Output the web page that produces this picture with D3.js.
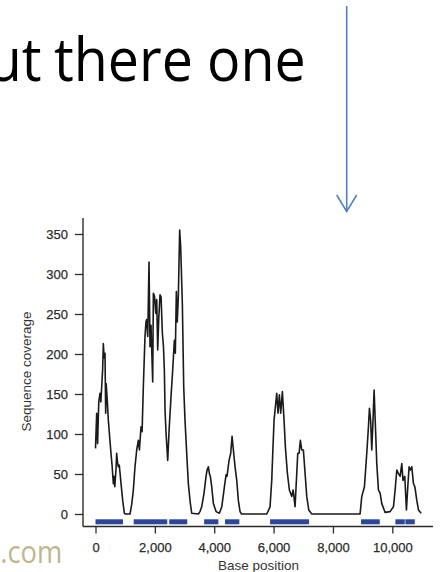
<!DOCTYPE html>
<html>
<head>
<meta charset="utf-8">
<script src="https://cdn.jsdelivr.net/npm/d3@7"></script>
<style>
  html, body { margin: 0; padding: 0; background: #ffffff; }
  svg { display: block; }
</style>
</head>
<body>
<svg id="chart" width="440" height="572"></svg>
<script>
// ---- data ----
const basePositions = [
  0, 40, 70, 110, 152, 180, 208, 240, 264, 290, 320, 343, 360, 400, 433, 480, 522, 560, 601, 625,
  650, 690, 713, 740, 770, 800, 830, 860, 916, 972, 1000, 1163, 1220, 1275, 1331, 1388, 1444, 1480, 1534, 1570,
  1612, 1668, 1700, 1725, 1760, 1803, 1837, 1870, 1927, 1950, 1990, 2030, 2062, 2096, 2130, 2174, 2210, 2253, 2290, 2320,
  2343, 2377, 2433, 2480, 2545, 2601, 2657, 2690, 2724, 2755, 2791, 2836, 2870, 2926, 2972, 3016, 3073, 3128, 3190, 3241,
  3466, 3520, 3578, 3657, 3724, 3760, 3803, 3840, 3870, 3916, 3972, 4062, 4174, 4254, 4343, 4399, 4430, 4500, 4556, 4601,
  4646, 4702, 4759, 4813, 4870, 4920, 5770, 5881, 5938, 5972, 6016, 6061, 6107, 6150, 6195, 6240, 6296, 6353, 6397, 6465,
  6532, 6613, 6660, 6724, 6781, 6815, 6860, 6903, 6950, 7004, 7061, 7118, 7185, 7287, 8914, 8972, 9061, 9140, 9196, 9230,
  9270, 9309, 9350, 9387, 9432, 9477, 9533, 9590, 9646, 9757, 9926, 10039, 10095, 10152, 10200, 10264, 10320, 10360, 10420, 10476,
  10522, 10566, 10610, 10657, 10713, 10760, 10826, 10882, 10971
];
const coverage = [
  82, 126, 88, 140, 151, 140, 159, 180, 213, 195, 201, 126, 163, 140, 117, 95, 76, 60, 38, 47,
  34, 55, 76, 65, 59, 61, 50, 38, 17, 1, 0, 0, 12, 30, 59, 80, 92, 80, 109, 103,
  159, 222, 240, 243, 222, 315, 209, 236, 165, 276, 272, 251, 268, 205, 243, 274, 271, 226, 209, 180,
  130, 101, 67, 105, 147, 180, 217, 201, 278, 240, 272, 355, 334, 263, 159, 117, 76, 38, 15, 1,
  0, 3, 9, 26, 47, 55, 59, 50, 47, 34, 13, 3, 1, 9, 34, 49, 47, 67, 76, 97,
  80, 59, 42, 17, 3, 0, 0, 9, 42, 76, 117, 134, 151, 126, 149, 126, 153, 117, 84, 51,
  30, 22, 30, 9, 51, 76, 76, 92, 80, 80, 51, 22, 5, 0, 0, 22, 34, 76, 109, 132,
  117, 80, 117, 155, 109, 63, 30, 26, 13, 2, 3, 9, 30, 55, 51, 47, 63, 42, 47, 5,
  34, 59, 55, 59, 38, 34, 17, 5, 1
];
// genomic segments drawn as blue bars under the curve: [start, end]
const segmentStarts = [0, 1286, 2485, 3660, 4364, 5881, 8948, 10104, 10441];
const segmentEnds   = [926, 2418, 3091, 4140, 4847, 7196, 9578, 10421, 10758];
const yTicks = [0, 50, 100, 150, 200, 250, 300, 350];
const xTicks = [0, 2000, 4000, 6000, 8000, 10000];
const yLabel = "Sequence coverage";
const xLabel = "Base position";
const titleWords = ["ut", "there", "one"];
const footerFragment = ".com";

// ---- drawing ----
const svg = d3.select("#chart");
const font = "'Liberation Sans', Arial, Helvetica, sans-serif";
const axisColor = "#2b2b2b";

const x = d3.scaleLinear().domain([0, 10000]).range([95.5, 392.3]);
const y = d3.scaleLinear().domain([0, 350]).range([514, 234]);

// slide title fragment (horizontally condensed like the slide font)
const titleScale = 0.91;
const wordStarts = [-12.2, 54, 207.1];
const title = svg.append("text")
  .attr("transform", `translate(0,81) scale(${titleScale},1)`)
  .attr("font-family", "'Open Sans', 'Noto Sans', sans-serif")
  .attr("font-size", 61)
  .attr("fill", "#000000");
titleWords.forEach((w, i) => {
  title.append("tspan").attr("x", wordStarts[i] / titleScale).attr("y", 0).text(w);
});

// slide arrow
const arrowX = 346.7;
svg.append("line")
  .attr("x1", arrowX).attr("x2", arrowX)
  .attr("y1", 6).attr("y2", 211.5)
  .attr("stroke", "#4f81bd").attr("stroke-width", 1.6);
svg.append("path")
  .attr("d", `M${arrowX - 10},195 L${arrowX},211.5 L${arrowX + 10},195`)
  .attr("fill", "none")
  .attr("stroke", "#4f81bd").attr("stroke-width", 1.6);

// footer fragment
const footScale = 0.88;
svg.append("text")
  .attr("transform", `translate(0,563) scale(${footScale},1)`)
  .attr("x", 0.3 / footScale).attr("y", 0)
  .attr("font-family", "'Open Sans', 'Noto Sans', sans-serif")
  .attr("font-size", 31)
  .attr("fill", "#bfb68c")
  .text(footerFragment);

// axes
const yAxis = d3.axisLeft(y).tickValues(yTicks).tickSize(8).tickPadding(7).tickSizeOuter(0);
const gy = svg.append("g").attr("transform", "translate(83,0)").call(yAxis);
gy.select(".domain").remove();
gy.selectAll(".tick line").attr("stroke", axisColor).attr("stroke-width", 1.3);
gy.selectAll(".tick text").attr("font-family", font).attr("font-size", 13).attr("fill", axisColor)
  .attr("stroke", axisColor).attr("stroke-width", 0.25);
svg.append("line")
  .attr("x1", 83).attr("x2", 83).attr("y1", 218).attr("y2", 526.5)
  .attr("stroke", axisColor).attr("stroke-width", 1.4);

const xAxis = d3.axisBottom(x).tickValues(xTicks).tickFormat(d3.format(",")).tickSize(7).tickPadding(9).tickSizeOuter(0);
const gx = svg.append("g").attr("transform", "translate(0,526.5)").call(xAxis);
gx.select(".domain").remove();
gx.selectAll(".tick line").attr("stroke", axisColor).attr("stroke-width", 1.3);
gx.selectAll(".tick text").attr("font-family", font).attr("font-size", 13).attr("fill", axisColor)
  .attr("stroke", axisColor).attr("stroke-width", 0.25);
svg.append("line")
  .attr("x1", 83).attr("x2", 433).attr("y1", 526.5).attr("y2", 526.5)
  .attr("stroke", axisColor).attr("stroke-width", 1.4);

// axis titles
svg.append("text")
  .attr("transform", "translate(30.5,371.5) rotate(-90)")
  .attr("text-anchor", "middle")
  .attr("font-family", font).attr("font-size", 13.5).attr("fill", "#333333")
  .text(yLabel);
svg.append("text")
  .attr("x", 258.5).attr("y", 569.5)
  .attr("text-anchor", "middle")
  .attr("font-family", font).attr("font-size", 13.5).attr("fill", "#333333")
  .text(xLabel);

// segment bars
const segs = segmentStarts.map((s, i) => ({ s, e: segmentEnds[i] }));
svg.append("g").selectAll("rect").data(segs).join("rect")
  .attr("x", d => x(d.s))
  .attr("width", d => x(d.e) - x(d.s))
  .attr("y", 519.3)
  .attr("height", 5)
  .attr("fill", "#2a479c");

// coverage curve
const pts = basePositions.map((b, i) => [b, coverage[i]]);
svg.append("path")
  .datum(pts)
  .attr("d", d3.line().x(d => x(d[0])).y(d => y(d[1])))
  .attr("fill", "none")
  .attr("stroke", "#1a1a1a")
  .attr("stroke-width", 1.6)
  .attr("stroke-linejoin", "round");
</script>
</body>
</html>
